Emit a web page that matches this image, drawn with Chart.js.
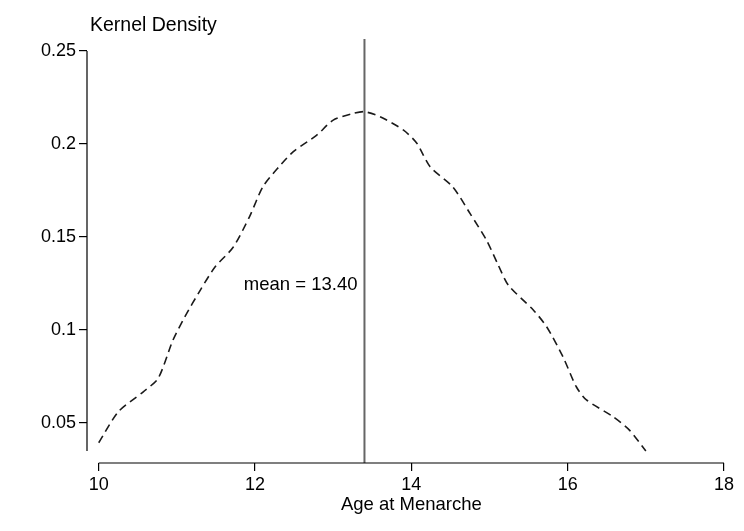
<!DOCTYPE html>
<html>
<head>
<meta charset="utf-8">
<script src="https://cdn.jsdelivr.net/npm/chart.js@4.4.1/dist/chart.umd.min.js"></script>
<style>
  html, body { margin: 0; padding: 0; background: #fff; }
  #wrap { width: 744px; height: 531px; }
</style>
</head>
<body>
<div id="wrap"><canvas id="kde"></canvas></div>
<script>
// Kernel density of age at menarche
const ageValues = [10.00, 10.25, 10.57, 10.76, 10.95, 11.10, 11.30, 11.49, 11.72, 11.93,
  12.10, 12.30, 12.49, 12.79, 13.00, 13.26, 13.40, 13.60, 13.90, 14.07, 14.24, 14.53,
  14.75, 14.96, 15.10, 15.24, 15.56, 15.73, 15.94, 16.11, 16.24, 16.58, 16.79, 17.00];
const densityValues = [0.0394, 0.0560, 0.0668, 0.0740, 0.0946, 0.1070, 0.1215, 0.1340, 0.1445, 0.1610,
  0.1770, 0.1875, 0.1959, 0.2048, 0.2129, 0.2165, 0.2174, 0.2147, 0.2075, 0.2004, 0.1878, 0.1770,
  0.1627, 0.1484, 0.1360, 0.1242, 0.1108, 0.1018, 0.0856, 0.0695, 0.0624, 0.0534, 0.0462, 0.0349];

const meanAge = 13.40;
const meanLabel = 'mean = 13.40';
const meanLabelY = 0.124;

const xTicks = [10, 12, 14, 16, 18];
const xTickLabels = ['10', '12', '14', '16', '18'];
const yTicks = [0.05, 0.1, 0.15, 0.2, 0.25];
const yTickLabels = ['0.05', '0.1', '0.15', '0.2', '0.25'];

const xRange = [9.85, 18];
const yRange = [0.0285, 0.2565];

const yTitle = 'Kernel Density';
const xTitle = 'Age at Menarche';

const FONT = '"Liberation Sans", Arial, Helvetica, sans-serif';

// Stata-style axes: lines only span the ticks / data, plus free text
const stataAxes = {
  id: 'stataAxes',
  afterDraw(chart) {
    const { ctx, chartArea, scales: { x, y } } = chart;
    ctx.save();
    ctx.strokeStyle = '#000';
    ctx.lineWidth = 1.2;
    ctx.beginPath();
    ctx.moveTo(x.getPixelForValue(xTicks[0]), chartArea.bottom);
    ctx.lineTo(x.getPixelForValue(xTicks[xTicks.length - 1]), chartArea.bottom);
    ctx.moveTo(chartArea.left, y.getPixelForValue(yTicks[yTicks.length - 1]));
    ctx.lineTo(chartArea.left, y.getPixelForValue(Math.min(...densityValues)));
    ctx.stroke();

    ctx.fillStyle = '#000';
    ctx.textBaseline = 'middle';
    ctx.textAlign = 'left';
    ctx.font = '19.5px ' + FONT;
    ctx.fillText(yTitle, chartArea.left + 3, 26);

    ctx.font = '18.5px ' + FONT;
    ctx.textAlign = 'center';
    const mid = (x.getPixelForValue(xTicks[0]) + x.getPixelForValue(xTicks[xTicks.length - 1])) / 2;
    ctx.fillText(xTitle, mid, 505);

    ctx.textAlign = 'right';
    ctx.fillText(meanLabel, x.getPixelForValue(meanAge) - 7, y.getPixelForValue(meanLabelY));
    ctx.restore();
  }
};

new Chart(document.getElementById('kde').getContext('2d'), {
  type: 'line',
  data: {
    datasets: [
      {
        label: 'density',
        data: ageValues.map((a, i) => ({ x: a, y: densityValues[i] })),
        borderColor: '#1a1a1a',
        borderWidth: 1.6,
        borderDash: [8, 5],
        pointRadius: 0,
        fill: false,
        tension: 0.25,
      },
      {
        label: 'mean',
        data: [{ x: meanAge, y: yRange[0] }, { x: meanAge, y: yRange[1] }],
        borderColor: '#666666',
        borderWidth: 2,
        pointRadius: 0,
        fill: false,
      }
    ]
  },
  options: {
    responsive: true,
    maintainAspectRatio: false,
    animation: false,
    layout: { padding: { top: 39, right: 20, left: 0, bottom: 0 } },
    plugins: { legend: { display: false }, tooltip: { enabled: false } },
    scales: {
      x: {
        type: 'linear',
        min: xRange[0],
        max: xRange[1],
        afterBuildTicks: (s) => { s.ticks = xTicks.map(v => ({ value: v })); },
        afterFit: (s) => { s.height = 68; },
        border: { display: false },
        grid: { drawOnChartArea: false, drawTicks: true, tickLength: 8, color: '#000', lineWidth: 1.2 },
        ticks: {
          color: '#000',
          padding: 3,
          maxRotation: 0,
          font: { family: FONT, size: 18 },
          callback: (v) => xTickLabels[xTicks.indexOf(v)],
        },
      },
      y: {
        type: 'linear',
        min: yRange[0],
        max: yRange[1],
        afterBuildTicks: (s) => { s.ticks = yTicks.map(v => ({ value: v })); },
        afterFit: (s) => { s.width = 87; },
        border: { display: false },
        grid: { drawOnChartArea: false, drawTicks: true, tickLength: 8, color: '#000', lineWidth: 1.2 },
        ticks: {
          color: '#000',
          padding: 3,
          font: { family: FONT, size: 18 },
          callback: (v) => yTickLabels[yTicks.indexOf(v)],
        },
      }
    }
  },
  plugins: [stataAxes]
});
</script>
</body>
</html>
